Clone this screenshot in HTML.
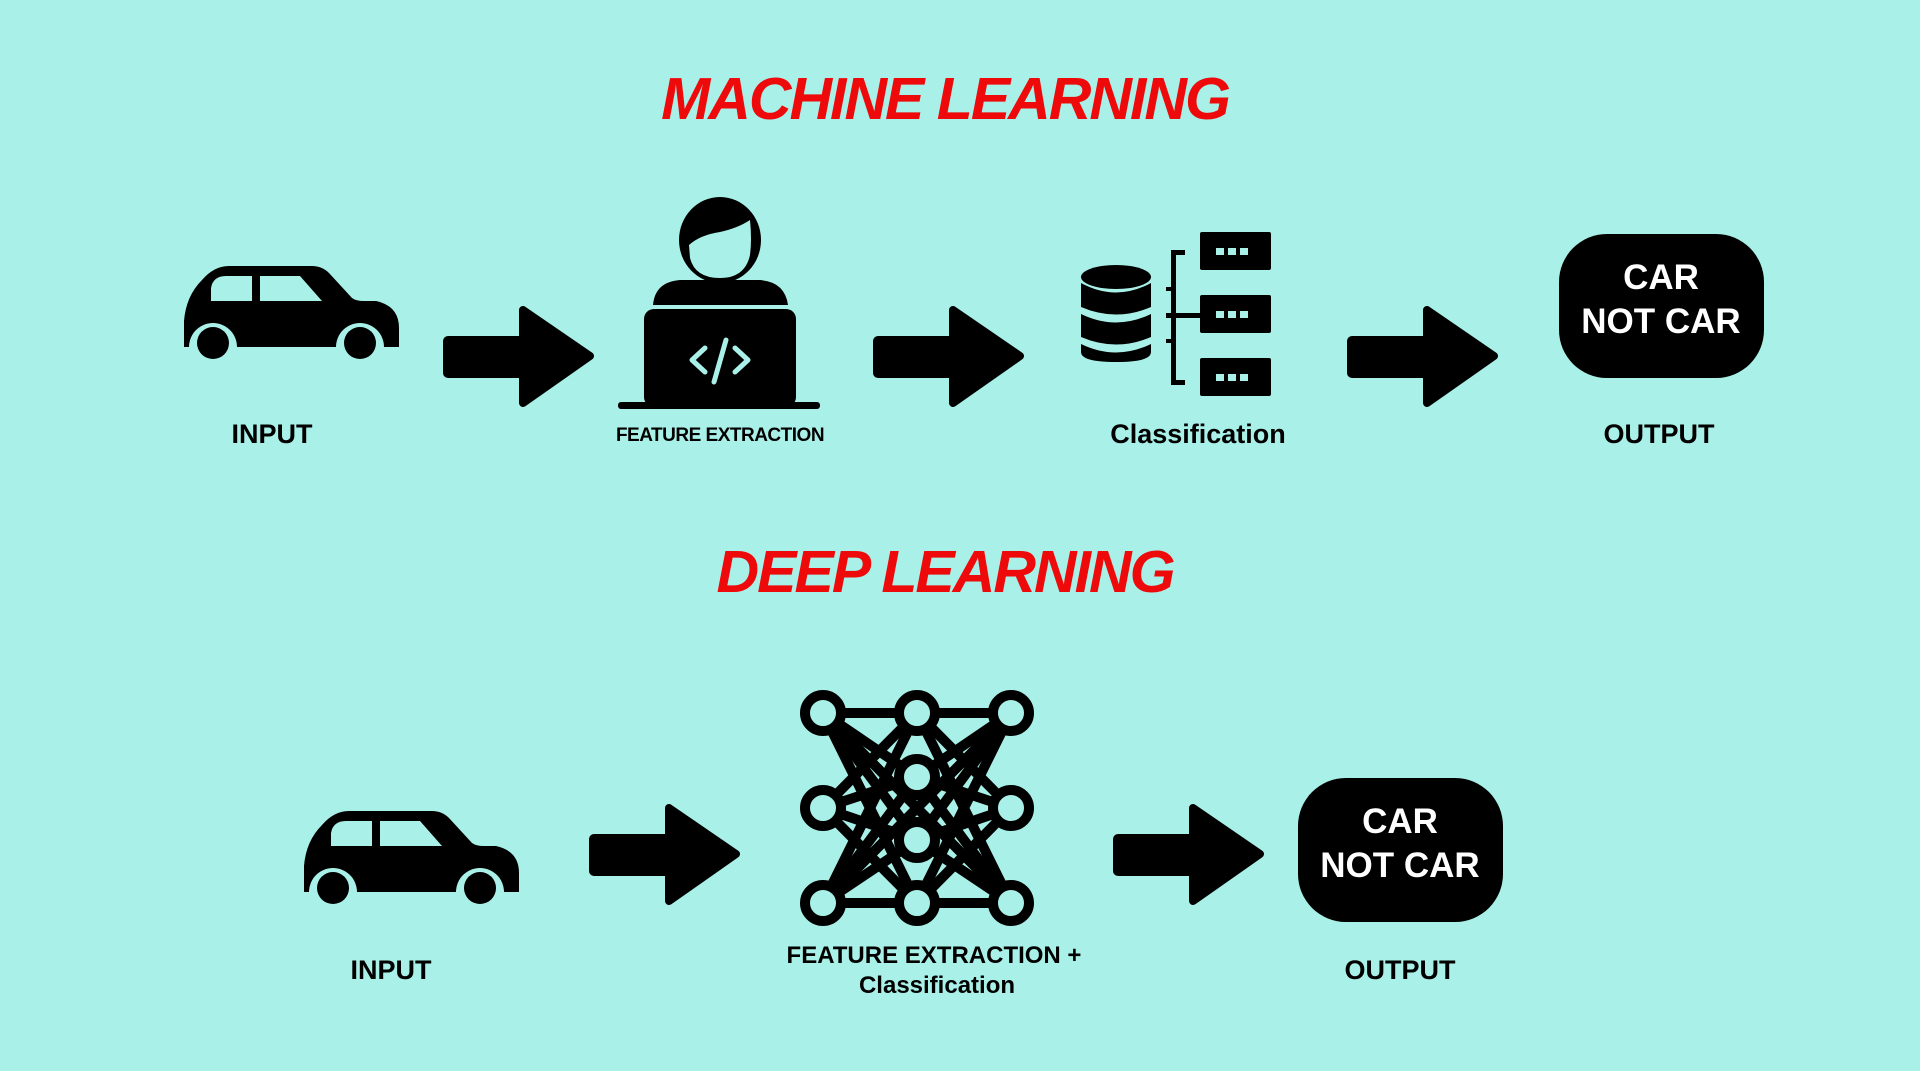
<!DOCTYPE html>
<html><head><meta charset="utf-8"><style>
html,body{margin:0;padding:0;background:#a9f1e8;}
svg{display:block}
text{font-family:"Liberation Sans",Arial,sans-serif;font-weight:bold}
</style></head><body>
<svg width="1920" height="1071" viewBox="0 0 1920 1071" xmlns="http://www.w3.org/2000/svg">
<defs>
<g id="car">
<path d="M0,81 L0,55 Q2,30 18,14 Q30,0 45,0 L128,0 Q138,0 145,7 L168,32 Q172,35 180,35 L192,35 Q215,40 215,62 L215,81 Z" fill="#000"/>
<circle cx="29" cy="81" r="24" fill="#a9f1e8"/>
<circle cx="176" cy="81" r="24" fill="#a9f1e8"/>
<rect x="-5" y="81" width="230" height="20" fill="#a9f1e8"/>
<circle cx="29" cy="77" r="16" fill="#000"/>
<circle cx="176" cy="77" r="16" fill="#000"/>
<path d="M27,35 L27,22 Q29,10 42,10 L68,10 L68,35 Z" fill="#a9f1e8"/>
<path d="M76,10 L116,10 L138,35 L76,35 Z" fill="#a9f1e8"/>
</g>
<g id="arrow">
<rect x="0" y="30" width="90" height="42" rx="5" fill="#000"/>
<path d="M80,4 L147,50 L80,97 Z" fill="#000" stroke="#000" stroke-width="8" stroke-linejoin="round"/>
</g>
<g id="out">
<rect x="0" y="0" width="205" height="144" rx="48" fill="#000"/>
<text x="102" y="55" font-size="35" fill="#fff" text-anchor="middle">CAR</text>
<text x="102" y="99" font-size="35" fill="#fff" text-anchor="middle">NOT CAR</text>
</g>
</defs>

<text x="945" y="119" font-size="59" font-style="italic" fill="#ee0a0a" text-anchor="middle" letter-spacing="-2">MACHINE LEARNING</text>
<text x="945" y="592" font-size="59" font-style="italic" fill="#ee0a0a" text-anchor="middle" letter-spacing="-2">DEEP LEARNING</text>

<use href="#car" x="184" y="266"/>
<use href="#arrow" x="443" y="306"/>
<ellipse cx="720" cy="240" rx="41" ry="43" fill="#000"/>
<path d="M689,245 Q700,235 720,232 Q738,228 750,220 Q752,240 750,255 Q745,278 720,278 Q695,278 690,258 Z" fill="#a9f1e8"/>
<path d="M653,305 Q655,282 680,280 L760,280 Q785,282 788,305 Z" fill="#000"/>
<rect x="644" y="309" width="152" height="98" rx="10" fill="#000"/>
<rect x="618" y="402" width="202" height="7" rx="3" fill="#000"/>
<path d="M705,348 L692,360 L705,372 M735,348 L748,360 L735,372 M726,340 L714,382" stroke="#a9f1e8" stroke-width="5" fill="none" stroke-linecap="round" stroke-linejoin="round"/>
<use href="#arrow" x="873" y="306"/>
<g fill="#000">
<ellipse cx="1116" cy="277" rx="35" ry="12"/>
<path d="M1081,283 Q1116,302 1151,283 L1151,307 Q1116,322 1081,307 Z"/>
<path d="M1081,314 Q1116,331 1151,314 L1151,337 Q1116,352 1081,337 Z"/>
<path d="M1081,344 Q1116,361 1151,344 L1151,352 Q1151,362 1116,362 Q1081,362 1081,352 Z"/>
<rect x="1171" y="250" width="5" height="135"/>
<rect x="1171" y="250" width="14" height="5"/>
<rect x="1171" y="380" width="14" height="5"/>
<rect x="1166" y="287" width="8" height="4"/>
<rect x="1166" y="313" width="105" height="5"/>
<rect x="1166" y="339" width="8" height="4"/>
<rect x="1200" y="232" width="71" height="38" rx="2"/>
<rect x="1200" y="295" width="71" height="38" rx="2"/>
<rect x="1200" y="358" width="71" height="38" rx="2"/>
</g>
<g fill="#a9f1e8">
<rect x="1216" y="248" width="8" height="7"/><rect x="1228" y="248" width="8" height="7"/><rect x="1240" y="248" width="8" height="7"/>
<rect x="1216" y="311" width="8" height="7"/><rect x="1228" y="311" width="8" height="7"/><rect x="1240" y="311" width="8" height="7"/>
<rect x="1216" y="374" width="8" height="7"/><rect x="1228" y="374" width="8" height="7"/><rect x="1240" y="374" width="8" height="7"/>
</g>
<use href="#arrow" x="1347" y="306"/>
<use href="#out" x="1559" y="234"/>

<text x="272" y="443" font-size="27" text-anchor="middle">INPUT</text>
<text x="720" y="441" font-size="19" text-anchor="middle" letter-spacing="-0.5">FEATURE EXTRACTION</text>
<text x="1198" y="443" font-size="27" text-anchor="middle">Classification</text>
<text x="1659" y="443" font-size="27" text-anchor="middle">OUTPUT</text>

<use href="#car" x="304" y="811"/>
<use href="#arrow" x="589" y="804"/>
<g stroke="#000" stroke-width="10" fill="none">
<line x1="823" y1="713" x2="1011" y2="713"/>
<line x1="823" y1="903" x2="1011" y2="903"/>
<g>
<line x1="823" y1="713" x2="917" y2="777"/><line x1="823" y1="713" x2="917" y2="840"/><line x1="823" y1="713" x2="917" y2="903"/><line x1="823" y1="713" x2="1011" y2="903"/>
<line x1="1011" y1="713" x2="917" y2="777"/><line x1="1011" y1="713" x2="917" y2="840"/><line x1="1011" y1="713" x2="917" y2="903"/><line x1="1011" y1="713" x2="823" y2="903"/>
<line x1="823" y1="903" x2="917" y2="777"/><line x1="823" y1="903" x2="917" y2="840"/><line x1="823" y1="903" x2="917" y2="713"/>
<line x1="1011" y1="903" x2="917" y2="777"/><line x1="1011" y1="903" x2="917" y2="840"/><line x1="1011" y1="903" x2="917" y2="713"/>
<line x1="823" y1="808" x2="917" y2="713"/><line x1="823" y1="808" x2="917" y2="777"/><line x1="823" y1="808" x2="917" y2="840"/><line x1="823" y1="808" x2="917" y2="903"/>
<line x1="1011" y1="808" x2="917" y2="713"/><line x1="1011" y1="808" x2="917" y2="777"/><line x1="1011" y1="808" x2="917" y2="840"/><line x1="1011" y1="808" x2="917" y2="903"/>
</g>
<g fill="#a9f1e8">
<circle cx="823" cy="713" r="18"/><circle cx="917" cy="713" r="18"/><circle cx="1011" cy="713" r="18"/>
<circle cx="823" cy="808" r="18"/><circle cx="1011" cy="808" r="18"/>
<circle cx="917" cy="777" r="18"/><circle cx="917" cy="840" r="18"/>
<circle cx="823" cy="903" r="18"/><circle cx="917" cy="903" r="18"/><circle cx="1011" cy="903" r="18"/>
</g>
</g>
<use href="#arrow" x="1113" y="804"/>
<use href="#out" x="1298" y="778"/>

<text x="391" y="979" font-size="27" text-anchor="middle">INPUT</text>
<text x="934" y="963" font-size="24" text-anchor="middle">FEATURE EXTRACTION +</text>
<text x="937" y="993" font-size="24" text-anchor="middle">Classification</text>
<text x="1400" y="979" font-size="27" text-anchor="middle">OUTPUT</text>
</svg>
</body></html>
